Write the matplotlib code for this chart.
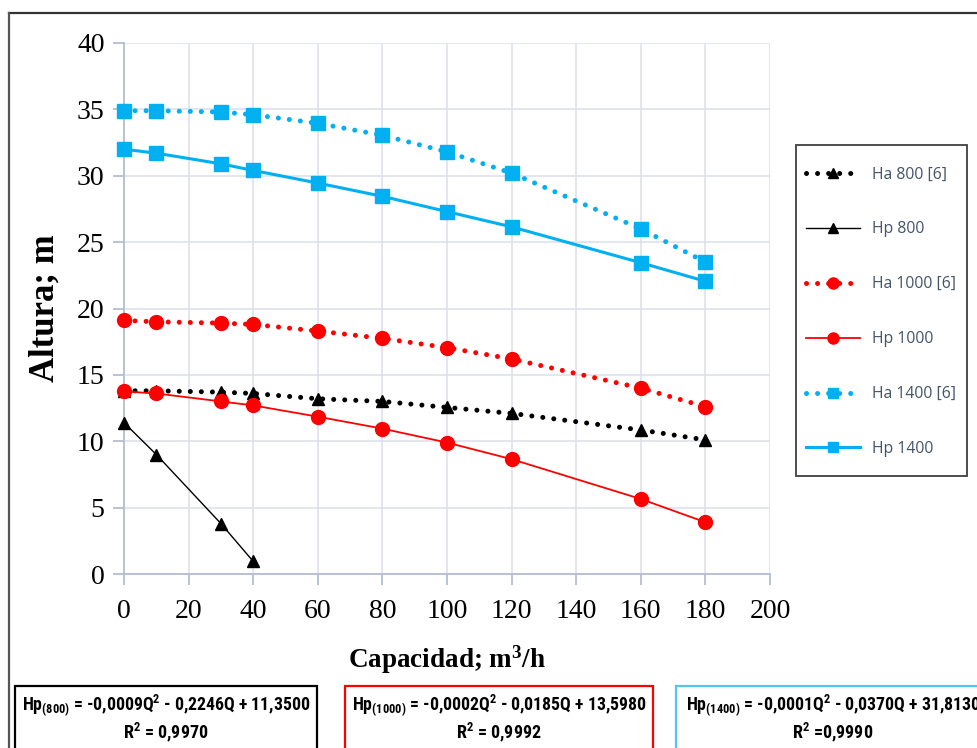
import matplotlib
matplotlib.use("Agg")
import matplotlib.pyplot as plt
from matplotlib.patches import Rectangle
from matplotlib.lines import Line2D

# caudal (m3/h)
q_full = [0, 10, 30, 40, 60, 80, 100, 120, 160, 180]
q_800 = [0, 10, 30, 40]

ha_800 = [13.8, 13.8, 13.7, 13.6, 13.2, 13.0, 12.55, 12.1, 10.85, 10.1]
hp_800 = [11.4, 9.0, 3.8, 0.95]
ha_1000 = [19.1, 19.0, 18.9, 18.8, 18.3, 17.75, 17.05, 16.2, 14.0, 12.6]
hp_1000 = [13.75, 13.6, 13.0, 12.7, 11.85, 10.95, 9.9, 8.65, 5.65, 3.9]
ha_1400 = [34.9, 34.9, 34.8, 34.6, 33.95, 33.05, 31.8, 30.2, 26.0, 23.5]
hp_1400 = [32.0, 31.7, 30.9, 30.4, 29.45, 28.45, 27.3, 26.15, 23.45, 22.05]

ecuaciones = [
    ("Hp$\\mathregular{_{(800)}}$ = -0,0009Q$\\mathregular{^2}$ - 0,2246Q + 11,3500", "R$\\mathregular{^2}$ = 0,9970", "black"),
    ("Hp$\\mathregular{_{(1000)}}$ = -0,0002Q$\\mathregular{^2}$ - 0,0185Q + 13,5980", "R$\\mathregular{^2}$ = 0,9992", "#ff0000"),
    ("Hp$\\mathregular{_{(1400)}}$ = -0,0001Q$\\mathregular{^2}$ - 0,0370Q + 31,8130", "R$\\mathregular{^2}$ =0,9990", "#55c4ee"),
]

W, H = 977, 748
fig = plt.figure(figsize=(W / 100, H / 100), dpi=100)
ax = fig.add_axes([124 / W, (H - 574) / H, (770 - 124) / W, (574 - 43) / H])

dots = (0, (0.01, 2.2))
ax.plot(q_full, ha_800, color="black", ls=dots, lw=3.6, dash_capstyle="round",
        marker="^", ms=9, label="Ha 800 [6]", clip_on=False, zorder=3)
ax.plot(q_800, hp_800, color="black", lw=1.0, marker="^", ms=9,
        label="Hp 800", clip_on=False, zorder=3)
ax.plot(q_full, ha_1000, color="#ff0000", ls=dots, lw=3.6, dash_capstyle="round",
        marker="o", ms=10, label="Ha 1000 [6]", clip_on=False, zorder=3)
ax.plot(q_full, hp_1000, color="#ff0000", lw=1.3, marker="o", ms=10,
        label="Hp 1000", clip_on=False, zorder=3)
ax.plot(q_full, ha_1400, color="#00b0f0", ls=dots, lw=3.6, dash_capstyle="round",
        marker="s", ms=9.5, label="Ha 1400 [6]", clip_on=False, zorder=3)
ax.plot(q_full, hp_1400, color="#00b0f0", lw=2.2, marker="s", ms=9.5,
        label="Hp 1400", clip_on=False, zorder=3)

ax.set_xlim(0, 200)
ax.set_ylim(0, 40)
ax.set_xticks(range(0, 201, 20))
ax.set_yticks(range(0, 41, 5))
ax.grid(True, color="#dfe2ec", lw=1.2)
ax.set_axisbelow(True)
for s in ["top", "right"]:
    ax.spines[s].set_visible(False)
for s in ["left", "bottom"]:
    ax.spines[s].set_color("#b4bdd2")
    ax.spines[s].set_linewidth(1.3)
ax.tick_params(axis="both", color="#b4bdd2", width=1.3, length=8,
               labelsize=20, pad=6)
ax.tick_params(axis="x", pad=10)
for lab in ax.get_xticklabels() + ax.get_yticklabels():
    lab.set_family("Liberation Serif")

ax.set_xlabel("Capacidad; m$\\mathregular{^3}$/h", family="Liberation Serif",
              fontsize=19.5, fontweight="bold", labelpad=14)
ax.set_ylabel("Altura; m", family="Liberation Serif", fontsize=25,
              fontweight="bold", labelpad=11)

# leyenda: marco aparte para fijar su tamaño
fig.add_artist(Rectangle((796 / W, 1 - 476 / H), (967 - 796) / W, (476 - 145) / H,
                         transform=fig.transFigure, fill=False,
                         edgecolor="#404040", lw=1.3))
leg = fig.legend(loc="upper left", bbox_to_anchor=(796 / W, 1 - 156 / H),
                 borderaxespad=0, frameon=False, handlelength=3.4,
                 labelspacing=2.48, borderpad=0.66, handletextpad=0.8,
                 numpoints=1, markerscale=0.8,
                 prop={"family": "Open Sans", "size": 11.3})
for t in leg.get_texts():
    t.set_color("#44546a")

# marco exterior
fig.add_artist(Line2D([9 / W, 1], [1 - 13 / H, 1 - 13 / H], color="#333333", lw=1.6))
fig.add_artist(Line2D([9 / W, 9 / W], [0, 1 - 13 / H], color="#555555", lw=1.6))

# cuadros de ecuaciones
fuente_eq = ["DejaVu Sans Condensed", "Roboto Condensed", "Roboto"]
cajas = [(15, 317), (345, 653), (676, 1000)]
for (x0, x1), (eq, r2, col) in zip(cajas, ecuaciones):
    fig.add_artist(Rectangle((x0 / W, -0.05), (x1 - x0) / W, 0.05 + (H - 686) / H,
                             transform=fig.transFigure, fill=False,
                             edgecolor=col, lw=1.6))
    xc = (x0 + x1) / 2 / W if x1 < W else (x0 + 990) / 2 / W
    fig.text(xc, 1 - 705 / H, eq, ha="center", va="center", fontsize=12.8,
             fontweight="bold", family=fuente_eq)
    fig.text(xc, 1 - 732 / H, r2, ha="center", va="center", fontsize=13,
             fontweight="bold", family=fuente_eq)

fig.savefig("out.png", dpi=100)
